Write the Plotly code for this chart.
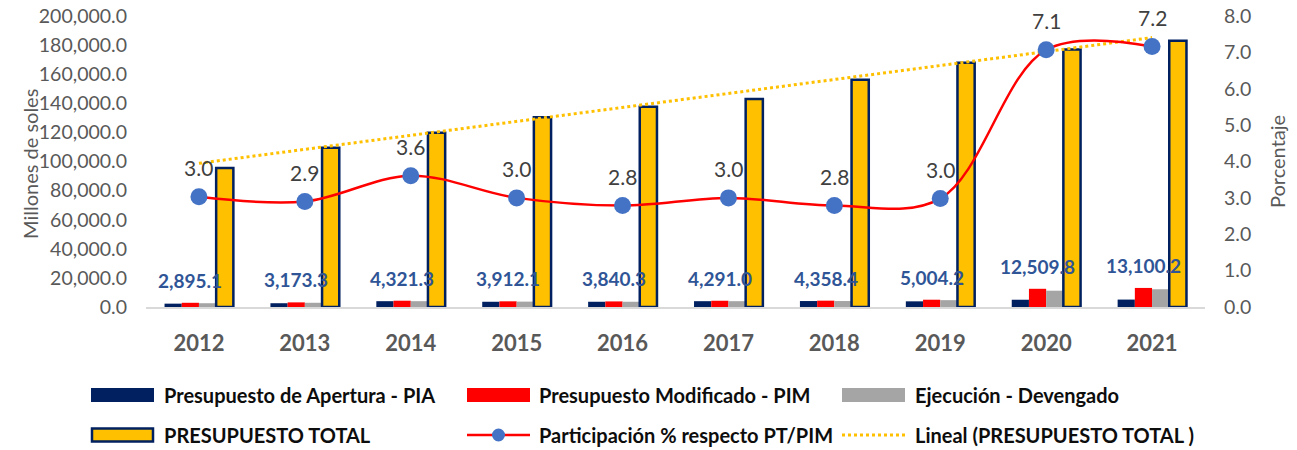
import numpy as np
import plotly.graph_objects as go

# ---------------- data ----------------
years = ["2012", "2013", "2014", "2015", "2016", "2017", "2018", "2019", "2020", "2021"]
pia = [2300, 2600, 4000, 3600, 3600, 4000, 4100, 3900, 5000, 5100]
pim = [2895.1, 3173.3, 4321.3, 3912.1, 3840.3, 4291.0, 4358.4, 5004.2, 12509.8, 13100.2]
ejecucion = [2600, 2900, 4000, 3700, 3600, 4000, 4100, 4700, 11200, 12200]
total = [95500, 109400, 119700, 130400, 137600, 143000, 156200, 167900, 176900, 183000]
participacion = [3.03, 2.90, 3.61, 3.00, 2.79, 3.00, 2.79, 2.98, 7.07, 7.16]

left_ticks = list(range(0, 200001, 20000))
right_ticks = list(range(0, 9))

# linear trend of PRESUPUESTO TOTAL
idx = np.arange(len(total))
coef = np.polyfit(idx, total, 1)
trend = np.polyval(coef, idx)

# ---------------- layout constants (page pixels) ----------------
W_FIG, H_FIG = 1297, 450
PLOT_L, PLOT_R, PLOT_T, PLOT_B = 146, 1205, 16, 307   # plot area in pixels
L = PLOT_L
T = PLOT_T
R = W_FIG - PLOT_R
B = H_FIG - PLOT_B
PW = PLOT_R - PLOT_L
PH = PLOT_B - PLOT_T

def px2x(px):
    return (px - PLOT_L) / PW

def py2y(py):
    return (PLOT_B - py) / PH

FONT = "Lato"
BARGAP = 0.35
cat_px = PW / len(years)
bar_px = cat_px * (1 - BARGAP) / 4

fig = go.Figure()

fig.add_trace(go.Bar(x=years, y=pia, name="Presupuesto de Apertura - PIA",
                     marker=dict(color="#002060", line=dict(width=0)), showlegend=False))
fig.add_trace(go.Bar(x=years, y=pim, name="Presupuesto Modificado - PIM",
                     marker=dict(color="#FF0000", line=dict(width=0)), showlegend=False))
fig.add_trace(go.Bar(x=years, y=ejecucion, name="Ejecución - Devengado",
                     marker=dict(color="#A5A5A5", line=dict(width=0)), showlegend=False))
fig.add_trace(go.Bar(x=years, y=total, name="PRESUPUESTO TOTAL",
                     marker=dict(color="#FFC000", line=dict(color="#002060", width=2.5)),
                     showlegend=False))

fig.add_trace(go.Scatter(x=years, y=participacion, yaxis="y2", name="Participación % respecto PT/PIM",
                         mode="lines+markers",
                         line=dict(color="#FF0000", width=2.5, shape="spline", smoothing=1),
                         marker=dict(color="#4472C4", size=17),
                         showlegend=False, cliponaxis=False))
fig.add_trace(go.Scatter(x=years, y=trend, name="Lineal (PRESUPUESTO TOTAL )",
                         mode="lines", line=dict(color="#FFC000", width=3, dash="dot"),
                         showlegend=False, cliponaxis=False))

annotations = []
# data labels of PIM (x given as category index)
for i, v in enumerate(pim):
    annotations.append(dict(x=i, y=v, xref="x", yref="y", text=f"{v:,.1f}",
                            showarrow=False, yanchor="bottom", xanchor="center",
                            xshift=-bar_px / 2, yshift=9,
                            font=dict(family=FONT, size=19, color="#2F5597", weight="bold")))
# data labels of percentage
for i, v in enumerate(participacion):
    annotations.append(dict(x=i, y=v, xref="x", yref="y2", text=f"{v:.1f}",
                            showarrow=False, yanchor="bottom", xanchor="center", yshift=15,
                            font=dict(family=FONT, size=21, color="#404040")))
# axis titles
annotations.append(dict(x=px2x(30), y=py2y(164), xref="paper", yref="paper",
                        xanchor="center", yanchor="middle",
                        text="Millones de soles", textangle=-90, showarrow=False,
                        font=dict(family=FONT, size=20, color="#595959")))
annotations.append(dict(x=px2x(1277), y=py2y(162), xref="paper", yref="paper",
                        xanchor="center", yanchor="middle",
                        text="Porcentaje", textangle=-90, showarrow=False,
                        font=dict(family=FONT, size=20, color="#595959")))

# ---------------- manual legend ----------------
shapes = []
leg_font = dict(family=FONT, size=20, color="#0D0D0D", weight="bold")
row1, row2 = 395, 435
cols = [(91, 154, 162), (467, 530, 537), (842, 905, 913)]

def rect(x0, x1, yc, color, line_color=None, lw=0, h=14):
    shapes.append(dict(type="rect", xref="paper", yref="paper",
                       x0=px2x(x0), x1=px2x(x1), y0=py2y(yc + h / 2), y1=py2y(yc - h / 2),
                       fillcolor=color, line=dict(color=line_color or color, width=lw), layer="above"))

def label(xl, yc, text):
    annotations.append(dict(x=px2x(xl), y=py2y(yc), xref="paper", yref="paper", text=text,
                            showarrow=False, xanchor="left", yanchor="middle", font=leg_font))

rect(cols[0][0], cols[0][1], row1, "#002060")
label(cols[0][2], row1, "Presupuesto de Apertura - PIA")
rect(cols[1][0], cols[1][1], row1, "#FF0000")
label(cols[1][2], row1, "Presupuesto Modificado - PIM")
rect(cols[2][0], cols[2][1], row1, "#A5A5A5")
label(cols[2][2], row1, "Ejecución - Devengado")

rect(cols[0][0] + 1, cols[0][1] - 1, row2, "#FFC000", "#002060", 2.5, h=13)
label(cols[0][2], row2, "PRESUPUESTO TOTAL")
shapes.append(dict(type="line", xref="paper", yref="paper",
                   x0=px2x(cols[1][0]), x1=px2x(cols[1][1]), y0=py2y(row2), y1=py2y(row2),
                   line=dict(color="#FF0000", width=2.5)))
cx = px2x((cols[1][0] + cols[1][1]) / 2)
cy = py2y(row2)
shapes.append(dict(type="circle", xref="paper", yref="paper", xsizemode="pixel", ysizemode="pixel",
                   xanchor=cx, yanchor=cy, x0=-6.5, x1=6.5, y0=-6.5, y1=6.5,
                   fillcolor="#4472C4", line=dict(color="#4472C4", width=0)))
label(cols[1][2], row2, "Participación % respecto PT/PIM")
shapes.append(dict(type="line", xref="paper", yref="paper",
                   x0=px2x(cols[2][0]), x1=px2x(cols[2][1]), y0=py2y(row2), y1=py2y(row2),
                   line=dict(color="#FFC000", width=3, dash="dot")))
label(cols[2][2], row2, "Lineal (PRESUPUESTO TOTAL )")

fig.update_layout(
    width=W_FIG, height=H_FIG,
    margin=dict(l=L, r=R, t=T, b=B, pad=0, autoexpand=False),
    paper_bgcolor="white", plot_bgcolor="white",
    barmode="group", bargap=BARGAP, bargroupgap=0,
    showlegend=False,
    font=dict(family=FONT, color="#595959"),
    xaxis=dict(type="category", range=[-0.5, len(years) - 0.5], automargin=False,
               showgrid=False, zeroline=False,
               showline=True, linecolor="#D9D9D9", linewidth=1.5,
               ticks="", ticklabelstandoff=16,
               tickfont=dict(family=FONT, size=22, color="#595959", weight="bold")),
    yaxis=dict(range=[0, 200000], tickvals=left_ticks, tickformat=",.1f", automargin=False,
               showgrid=False, zeroline=False, showline=False, ticks="",
               ticklabelstandoff=18, ticklabeloverflow="allow",
               tickfont=dict(family=FONT, size=19.5, color="#595959")),
    yaxis2=dict(range=[0, 8], tickvals=right_ticks, tickformat=".1f", overlaying="y", side="right",
                automargin=False,
                showgrid=False, zeroline=False, showline=False, ticks="",
                ticklabelstandoff=18, ticklabeloverflow="allow",
                tickfont=dict(family=FONT, size=19.5, color="#595959")),
    annotations=annotations,
    shapes=shapes,
)

# remove the default page margin so the figure fills the window exactly
fig.write_html("out.html", config={"displayModeBar": False},
               post_script="document.body.style.margin='0px';")
